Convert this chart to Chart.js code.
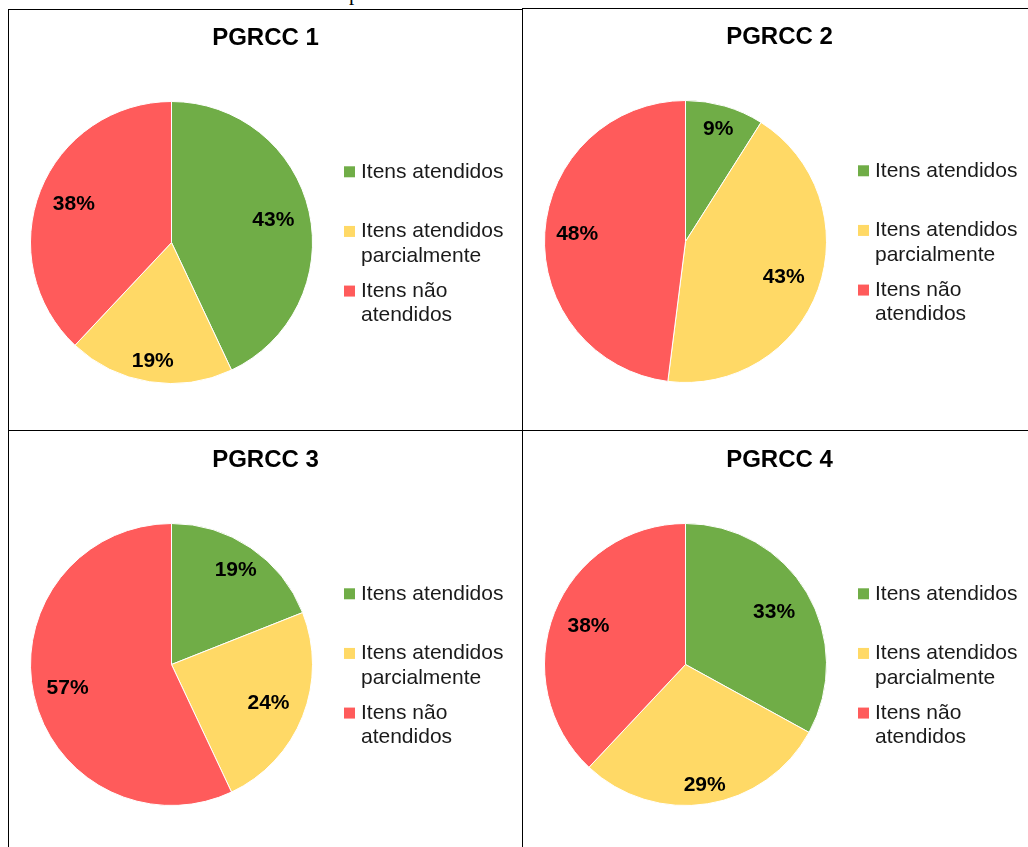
<!DOCTYPE html>
<html>
<head>
<meta charset="utf-8">
<script src="https://cdn.jsdelivr.net/npm/chart.js@4.4.1/dist/chart.umd.min.js"></script>
<style>
  html, body { margin: 0; padding: 0; background: #fff; }
  body { width: 1028px; height: 847px; position: relative; overflow: hidden; }
  canvas { position: absolute; }
  .rule { position: absolute; background: #000; }
  .caption { position: absolute; left: 349px; top: -17px; font-family: "Liberation Serif", serif; font-size: 21px; line-height: 21px; color: #000; }
</style>
</head>
<body>
<div class="caption">p</div>
<canvas id="c1" width="521" height="415" style="left:5px;top:10px"></canvas>
<canvas id="c2" width="521" height="415" style="left:519px;top:9px"></canvas>
<canvas id="c3" width="521" height="415" style="left:5px;top:432px"></canvas>
<canvas id="c4" width="521" height="415" style="left:519px;top:432px"></canvas>
<div class="rule" style="left:8px;top:9px;width:515px;height:1px"></div>
<div class="rule" style="left:522px;top:8px;width:506px;height:1px"></div>
<div class="rule" style="left:8px;top:9px;width:1px;height:838px"></div>
<div class="rule" style="left:522px;top:8px;width:1px;height:839px"></div>
<div class="rule" style="left:8px;top:430px;width:1020px;height:1px"></div>
<script>
const categories = ['Itens atendidos', 'Itens atendidos parcialmente', 'Itens não atendidos'];
// legend text as wrapped in the original (trailing spaces only widen the measured column)
const legendLines = [['Itens atendidos     ', ''], ['Itens atendidos', 'parcialmente'], ['Itens não', 'atendidos']];
const titles = ['PGRCC 1', 'PGRCC 2', 'PGRCC 3', 'PGRCC 4'];

// percentages per plan, in the order of categories
const pgrcc1 = [43, 19, 38];
const pgrcc2 = [9, 43, 48];
const pgrcc3 = [19, 24, 57];
const pgrcc4 = [33, 29, 38];

const sliceColors = ['#70AD47', '#FFD966', '#FF5B5B'];

// how far out (fraction of radius) each percentage label sits
const labelPos1 = [0.74, 0.85, 0.745];
const labelPos2 = [0.83, 0.74, 0.77];
const labelPos3 = [0.81, 0.74, 0.755];
const labelPos4 = [0.73, 0.87, 0.74];

const FONT = '"Liberation Sans", Arial, sans-serif';

const pctLabels = {
  id: 'pctLabels',
  afterDatasetsDraw(chart, args, opts) {
    const ctx = chart.ctx;
    const meta = chart.getDatasetMeta(0);
    const values = chart.data.datasets[0].data;
    ctx.save();
    ctx.font = 'bold 21px ' + FONT;
    ctx.fillStyle = '#000';
    ctx.textAlign = 'center';
    ctx.textBaseline = 'middle';
    meta.data.forEach((arc, i) => {
      const p = arc.getProps(['x', 'y', 'startAngle', 'endAngle', 'outerRadius'], true);
      const mid = (p.startAngle + p.endAngle) / 2;
      const r = p.outerRadius * opts.radius[i];
      ctx.fillText(values[i] + '%', p.x + Math.cos(mid) * r, p.y + Math.sin(mid) * r);
    });
    ctx.restore();
  }
};

function makePie(id, title, values, labelPos) {
  return new Chart(document.getElementById(id), {
    type: 'pie',
    data: {
      labels: categories,
      datasets: [{
        data: values,
        backgroundColor: sliceColors,
        borderColor: '#ffffff',
        borderWidth: 1
      }]
    },
    plugins: [pctLabels],
    options: {
      responsive: false,
      animation: false,
      layout: { padding: { left: 0, right: 0, top: 0, bottom: 41 } },
      plugins: {
        title: {
          display: true,
          text: title,
          color: '#000',
          font: { family: FONT, size: 24, weight: 'bold', lineHeight: 1.2 },
          padding: { top: 13.6, bottom: 48.6 }
        },
        legend: {
          position: 'right',
          fullSize: false,
          maxWidth: 188,
          title: { display: true, text: '', font: { size: 6, lineHeight: 1 }, padding: 0 },
          labels: {
            usePointStyle: true,
            pointStyle: 'rect',
            boxWidth: 2,
            boxHeight: 11,
            padding: 10.5,
            color: '#1a1a1a',
            font: { family: FONT, size: 21, lineHeight: 1.17 },
            generateLabels(chart) {
              const items = Chart.overrides.pie.plugins.legend.labels.generateLabels(chart);
              items.forEach((it, i) => {
                it.text = legendLines[i];
                it.pointStyle = 'rect';
                it.strokeStyle = it.fillStyle;
                it.lineWidth = 0;
              });
              return items;
            }
          }
        },
        tooltip: { enabled: false },
        pctLabels: { radius: labelPos }
      }
    }
  });
}

makePie('c1', titles[0], pgrcc1, labelPos1);
makePie('c2', titles[1], pgrcc2, labelPos2);
makePie('c3', titles[2], pgrcc3, labelPos3);
makePie('c4', titles[3], pgrcc4, labelPos4);
</script>
</body>
</html>
